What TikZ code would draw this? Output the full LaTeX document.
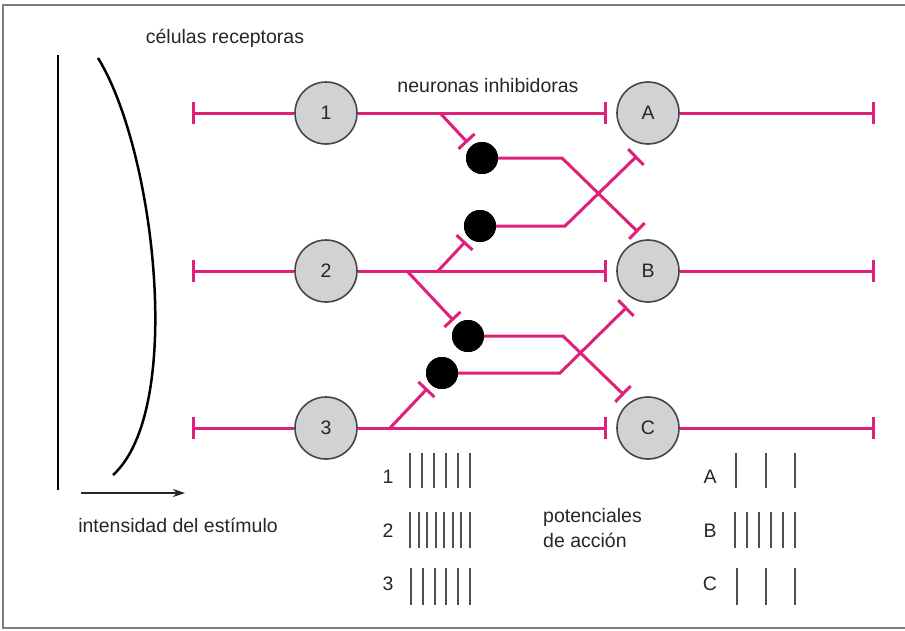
\documentclass[tikz,border=0pt]{standalone}
\usepackage{fontspec}
\setmainfont{Liberation Sans}
\usetikzlibrary{arrows.meta}
\definecolor{pinkline}{RGB}{222,32,122}
\definecolor{cellfill}{RGB}{210,210,212}
\definecolor{celldraw}{RGB}{70,70,70}
\definecolor{framegray}{RGB}{125,125,125}
\definecolor{spikegray}{RGB}{80,80,80}
\begin{document}
\begin{tikzpicture}[x=1pt,y=-1pt,
  txt/.style={font=\fontsize{19.5}{22}\selectfont, text=black!85, inner sep=0pt},
  cell/.style={circle, draw=celldraw, line width=1.6pt, fill=cellfill, minimum size=62pt, inner sep=0pt, font=\fontsize{19.5}{22}\selectfont, text=black!85},
  inhib/.style={circle, fill=black, minimum size=32pt, inner sep=0pt},
  axon/.style={draw=pinkline, line width=3pt},
  syn/.style={axon, -{Bar[width=22pt,line width=3pt]}},
  spike/.style={draw=spikegray, line width=2pt},
  frame/.style={draw=framegray, line width=1.6pt}
]
\useasboundingbox (0,0) rectangle (905,630);
\draw[frame] (905,5) -- (3,5) -- (3,628) -- (905,628);

% receptor curve and axes
\draw[black, line width=2.5pt] (58,55) -- (58,490);
\draw[black, line width=2.5pt] (98,58) .. controls (155,150) and (185,410) .. (113,475);
\coordinate (ax0) at (81,493);
\coordinate (ax1) at (185,493);
\draw[black!85, line width=1.8pt, -{Stealth[length=12pt,width=8pt]}] (ax0) -- (ax1);

% texts
\node[txt, anchor=base] (trec) at (225,43) {células receptoras};
\node[txt, anchor=base] (tinh) at (488,92) {neuronas inhibidoras};
\node[txt, anchor=base] (tint) at (178,532) {intensidad del estímulo};

% coordinates
\coordinate (l1) at (192,113);
\coordinate (l2) at (192,271);
\coordinate (l3) at (192,428);
\coordinate (r1) at (875,113);
\coordinate (r2) at (875,271);
\coordinate (r3) at (875,428);
\coordinate (b1) at (440,113);
\coordinate (b2) at (438,271);
\coordinate (b2d) at (407,271);
\coordinate (b3) at (390,428);
\coordinate (k1) at (562,158);
\coordinate (k2) at (565,226);
\coordinate (k3) at (563,336);
\coordinate (k4) at (560,373);
\coordinate (t1) at (638,232);
\coordinate (t2) at (637,156);
\coordinate (t3) at (624,395);
\coordinate (t4) at (627,307);

% nodes
\node[cell] (c1) at (326,113) {1};
\node[cell] (c2) at (326,271) {2};
\node[cell] (c3) at (326,428) {3};
\node[cell] (cA) at (648,113) {A};
\node[cell] (cB) at (648,271) {B};
\node[cell] (cC) at (648,428) {C};
\node[inhib] (d1) at (482,158) {};
\node[inhib] (d2) at (480,226) {};
\node[inhib] (d3) at (468,336) {};
\node[inhib] (d4) at (442,373) {};

% main axons
\draw[syn] (c1) -- (l1);
\draw[syn] (c2) -- (l2);
\draw[syn] (c3) -- (l3);
\draw[syn, shorten >=9pt] (c1) -- (cA);
\draw[syn, shorten >=9pt] (c2) -- (cB);
\draw[syn, shorten >=9pt] (c3) -- (cC);
\draw[syn] (cA) -- (r1);
\draw[syn] (cB) -- (r2);
\draw[syn] (cC) -- (r3);

% branches to inhibitory neurons
\draw[syn, shorten >=5pt] (b1) -- (d1);
\draw[syn, shorten >=5pt] (b2) -- (d2);
\draw[syn, shorten >=5pt] (b2d) -- (d3);
\draw[syn, shorten >=5pt] (b3) -- (d4);

% inhibitory outputs
\draw[syn] (d1) -- (k1) -- (t1);
\draw[syn] (d2) -- (k2) -- (t2);
\draw[syn] (d3) -- (k3) -- (t3);
\draw[syn] (d4) -- (k4) -- (t4);

% redraw dots on top
\node[inhib] at (d1) {};
\node[inhib] at (d2) {};
\node[inhib] at (d3) {};
\node[inhib] at (d4) {};

% action potentials
\node[txt, anchor=base] (s1) at (388,483) {1};
\node[txt, anchor=base] (s2) at (388,537) {2};
\node[txt, anchor=base] (s3) at (388,590) {3};
\node[txt, anchor=base] (sA) at (710,483) {A};
\node[txt, anchor=base] (sB) at (710,537) {B};
\node[txt, anchor=base] (sC) at (710,590) {C};
\node[txt, anchor=base west, align=left] (tpot) at (543,522) {potenciales};
\node[txt, anchor=base west] (tacc) at (543,547) {de acción};

\foreach \i in {0,...,5} \draw[spike] ({410+12*\i},453) -- ({410+12*\i},488);
\foreach \i in {0,...,7} \draw[spike] ({410+60/7*\i},512) -- ({410+60/7*\i},548);
\foreach \i in {0,...,5} \draw[spike] ({411+11.8*\i},568) -- ({411+11.8*\i},605);
\foreach \i in {0,...,2} \draw[spike] ({736+29.5*\i},453) -- ({736+29.5*\i},488);
\foreach \i in {0,...,5} \draw[spike] ({735+12*\i},512) -- ({735+12*\i},548);
\foreach \i in {0,...,2} \draw[spike] ({737+29*\i},568) -- ({737+29*\i},605);
\end{tikzpicture}
\end{document}
